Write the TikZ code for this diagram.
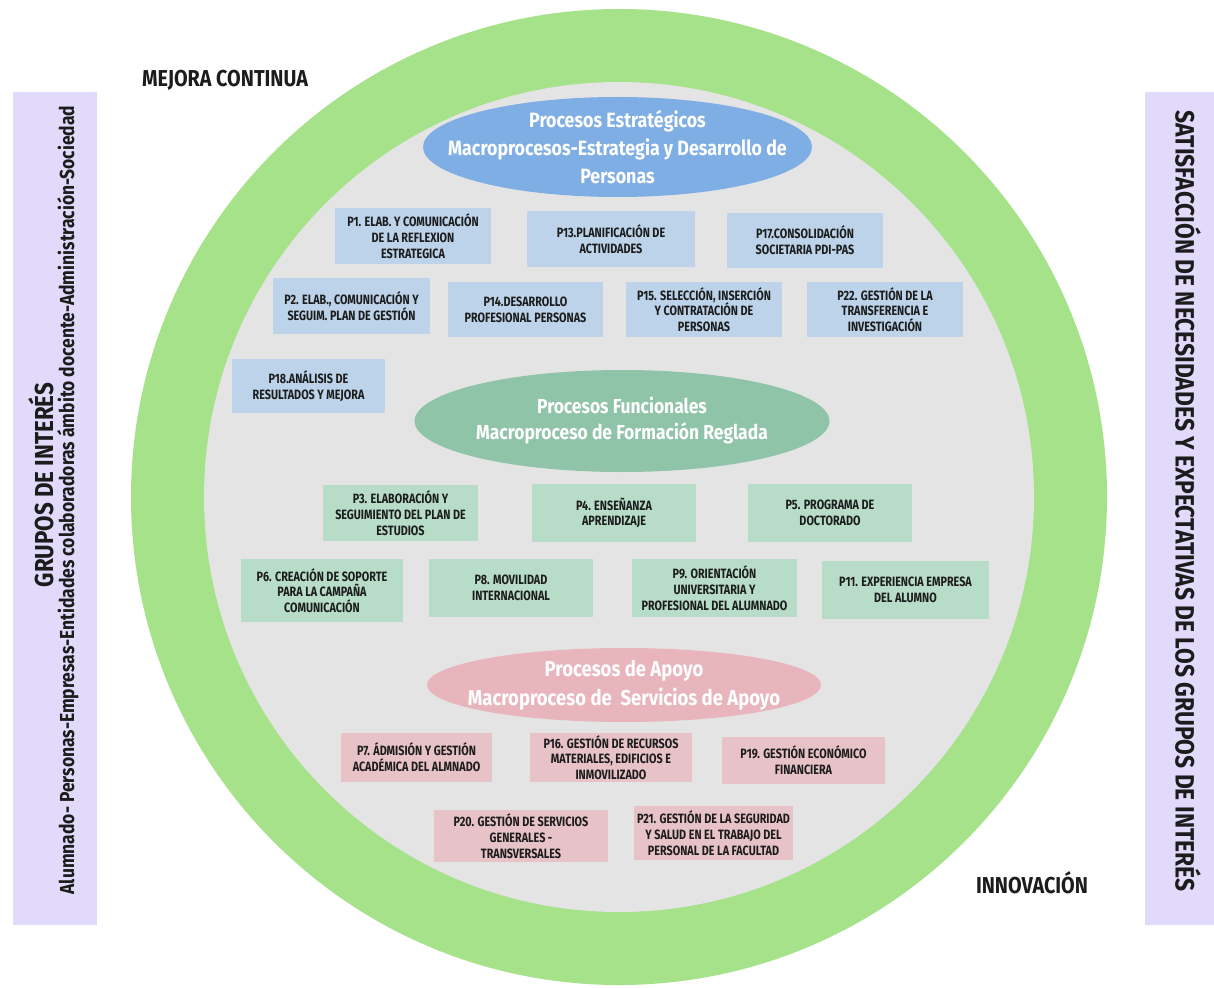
\documentclass[tikz,border=0pt]{standalone}
\usepackage{fontspec}
\setmainfont{Fira Sans}[FakeStretch=0.86]
\newfontfamily\boxfont{Fira Sans}[FakeStretch=0.8]
\usetikzlibrary{shapes.geometric}
\definecolor{ringgreen}{HTML}{A5E28A}
\definecolor{innergray}{HTML}{E4E4E4}
\definecolor{blueell}{HTML}{7EAEE3}
\definecolor{bluebox}{HTML}{BCD3EA}
\definecolor{greenell}{HTML}{8FC4A9}
\definecolor{greenbox}{HTML}{B7DDC8}
\definecolor{pinkell}{HTML}{E8B5BD}
\definecolor{pinkbox}{HTML}{E7C3C8}
\definecolor{lavender}{HTML}{E2DAFB}
\definecolor{ink}{HTML}{1C1C1C}
\begin{document}
\begin{tikzpicture}[x=1pt,y=-1pt,
  procbox/.style={rectangle, inner sep=1pt, align=center, text=ink,
    font=\boxfont\fontsize{13.5}{15.7}\selectfont\bfseries},
  bluep/.style={procbox, fill=bluebox},
  greenp/.style={procbox, fill=greenbox},
  pinkp/.style={procbox, fill=pinkbox},
  macroell/.style={ellipse, inner sep=0pt},
  macrotext/.style={align=center, text=white, inner sep=0pt,
    font=\fontsize{20.7}{28}\selectfont\bfseries},
  sidebar/.style={rectangle, fill=lavender, inner sep=0pt, minimum width=#1, minimum height=833},
  sidetitle/.style={text=ink, inner sep=0pt, font=\fontsize{26.5}{30}\selectfont\bfseries},
  cornerlabel/.style={text=ink, inner sep=0pt, font=\fontsize{23}{28}\selectfont\bfseries}
]
\useasboundingbox (0,0) rectangle (1214,987);
\fill[white] (0,0) rectangle (1214,987);

% side bars
\node[sidebar=84] (leftbar) at (55,508.5) {};
\node[sidebar=69] (rightbar) at (1179.5,508.5) {};
\node[sidetitle, rotate=90, font=\fontsize{26}{30}\selectfont\bfseries] (grupos) at (41,485) {GRUPOS DE INTERÉS};
\node[text=ink, inner sep=0pt, rotate=90, font=\fontsize{20.3}{24}\selectfont\bfseries] (alumnado) at (68,500)
  {Alumnado- Personas-Empresas-Entidades colaboradoras ámbito docente-Administración-Sociedad};
\node[sidetitle, rotate=-90] (satisf) at (1188,501)
  {SATISFACCIÓN DE NECESIDADES Y EXPECTATIVAS DE LOS GRUPOS DE INTERÉS};

% ring
\node[circle, fill=ringgreen, minimum size=976, inner sep=0pt] (ring) at (619,497) {};
\node[circle, fill=innergray, minimum size=830, inner sep=0pt] (core) at (619,497) {};

\node[cornerlabel] (mejora) at (225,80) {MEJORA CONTINUA};
\node[cornerlabel] (innov) at (1032,883) {INNOVACIÓN};

% strategic
\node[macroell, fill=blueell, minimum width=389, minimum height=100] (eest) at (617.5,147) {};
\node[macrotext] (test) at (eest.center) {Procesos Estratégicos\\Macroprocesos-Estrategia y Desarrollo de\\Personas};

\node[bluep, minimum width=156, minimum height=56] (p1) at (413,236) {P1. ELAB. Y COMUNICACIÓN\\DE LA REFLEXION\\ESTRATEGICA};
\node[bluep, minimum width=168, minimum height=56] (p13) at (611,239) {P13.PLANIFICACIÓN DE\\ACTIVIDADES};
\node[bluep, minimum width=156, minimum height=55] (p17) at (805,240.5) {P17.CONSOLIDACIÓN\\SOCIETARIA PDI-PAS};
\node[bluep, minimum width=157, minimum height=56] (p2) at (351.5,306) {P2. ELAB., COMUNICACIÓN Y\\SEGUIM. PLAN DE GESTIÓN};
\node[bluep, minimum width=155, minimum height=55] (p14) at (525.5,309.5) {P14.DESARROLLO\\PROFESIONAL PERSONAS};
\node[bluep, minimum width=156, minimum height=55] (p15) at (704,309.5) {P15. SELECCIÓN, INSERCIÓN\\Y CONTRATACIÓN DE\\PERSONAS};
\node[bluep, minimum width=156, minimum height=55] (p22) at (885,309.5) {P22. GESTIÓN DE LA\\TRANSFERENCIA E\\INVESTIGACIÓN};
\node[bluep, minimum width=153, minimum height=54] (p18) at (308.5,386) {P18.ANÁLISIS DE\\RESULTADOS Y MEJORA};

% functional
\node[macroell, fill=greenell, minimum width=415, minimum height=102] (efun) at (622,421) {};
\node[macrotext, font=\fontsize{20.3}{26}\selectfont\bfseries] (tfun) at (efun.center) {Procesos Funcionales\\Macroproceso de Formación Reglada};

\node[greenp, minimum width=155, minimum height=56] (p3) at (400.5,513) {P3. ELABORACIÓN Y\\SEGUIMIENTO DEL PLAN DE\\ESTUDIOS};
\node[greenp, minimum width=164, minimum height=58] (p4) at (614,513) {P4. ENSEÑANZA\\APRENDIZAJE};
\node[greenp, minimum width=164, minimum height=58] (p5) at (830,513) {P5. PROGRAMA DE\\DOCTORADO};
\node[greenp, minimum width=162, minimum height=63] (p6) at (322,590.5) {P6. CREACIÓN DE SOPORTE\\PARA LA CAMPAÑA\\COMUNICACIÓN};
\node[greenp, minimum width=164, minimum height=58] (p8) at (511,588) {P8. MOVILIDAD\\INTERNACIONAL};
\node[greenp, minimum width=165, minimum height=58] (p9) at (714.5,588) {P9. ORIENTACIÓN\\UNIVERSITARIA Y\\PROFESIONAL DEL ALUMNADO};
\node[greenp, minimum width=167, minimum height=58] (p11) at (905.5,590) {P11. EXPERIENCIA EMPRESA\\DEL ALUMNO};

% support
\node[macroell, fill=pinkell, minimum width=394, minimum height=74] (eapo) at (624,685) {};
\node[macrotext, font=\fontsize{21.5}{29}\selectfont\bfseries] (tapo) at (eapo.center) {Procesos de Apoyo\\Macroproceso de\ \ Servicios de Apoyo};

\node[pinkp, minimum width=151, minimum height=49] (p7) at (416.5,757.5) {P7. ÁDMISIÓN Y GESTIÓN\\ACADÉMICA DEL ALMNADO};
\node[pinkp, minimum width=162, minimum height=49] (p16) at (611,757.5) {P16. GESTIÓN DE RECURSOS\\MATERIALES, EDIFICIOS E\\INMOVILIZADO};
\node[pinkp, minimum width=163, minimum height=47] (p19) at (803.5,760.5) {P19. GESTIÓN ECONÓMICO\\FINANCIERA};
\node[pinkp, minimum width=174, minimum height=52] (p20) at (521,836) {P20. GESTIÓN DE SERVICIOS\\GENERALES -\\TRANSVERSALES};
\node[pinkp, minimum width=159, minimum height=54] (p21) at (713.5,833) {P21. GESTIÓN DE LA SEGURIDAD\\Y SALUD EN EL TRABAJO DEL\\PERSONAL DE LA FACULTAD};
\end{tikzpicture}
\end{document}
